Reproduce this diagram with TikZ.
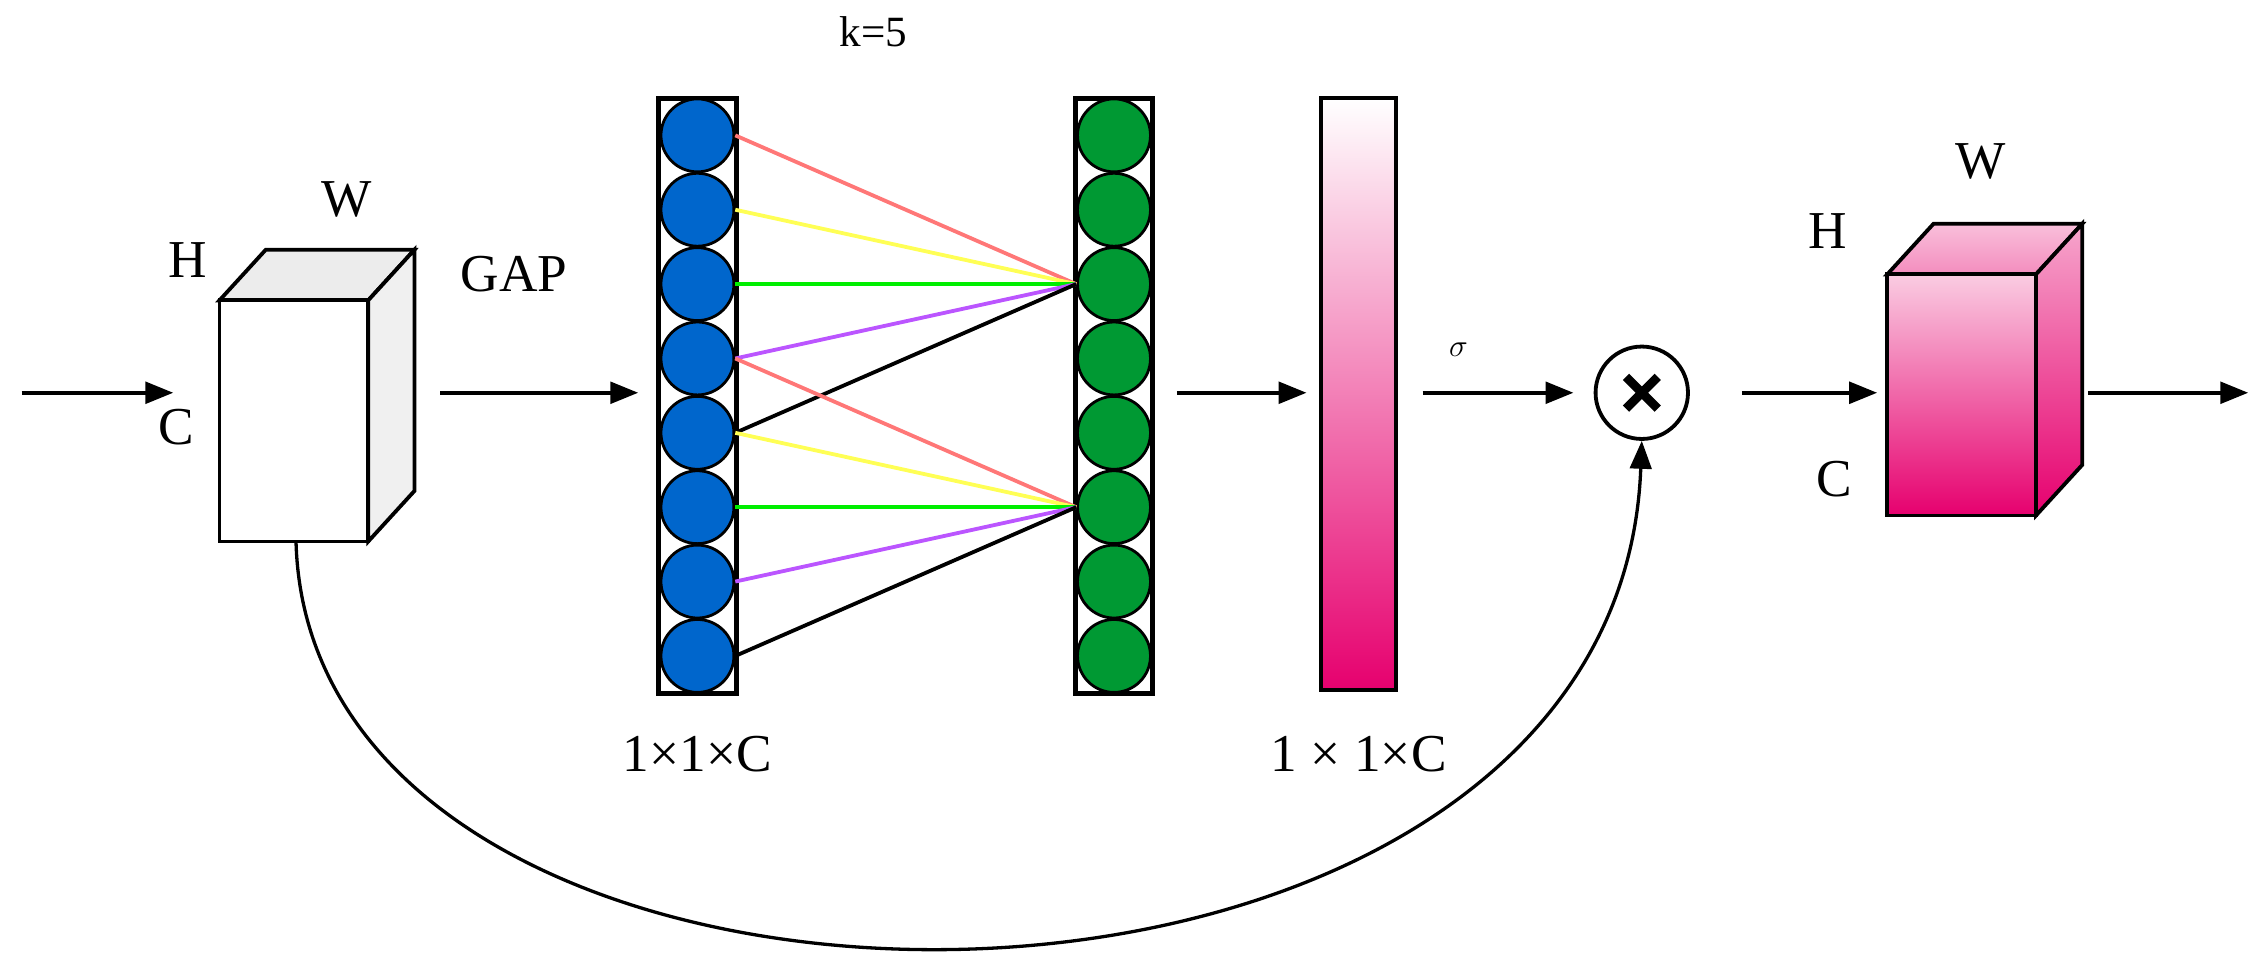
\documentclass[tikz,border=0pt]{standalone}
\usepackage{fontspec}
\setmainfont{Liberation Serif}
\usetikzlibrary{arrows.meta,calc}
\definecolor{cblue}{HTML}{0066CC}
\definecolor{cgreen}{HTML}{009933}
\definecolor{cpink}{HTML}{E6006E}
\definecolor{lred}{HTML}{FF7777}
\definecolor{lyellow}{HTML}{FFFF55}
\definecolor{lgreen}{HTML}{00EE00}
\definecolor{lpurple}{HTML}{BB55FF}
\begin{document}
\begin{tikzpicture}[x=0.04cm,y=-0.04cm,
  arr/.style={line width=3pt,-{Triangle[length=22pt,width=17pt]}},
  lbl/.style={font=\fontsize{42}{46}\selectfont,inner sep=0pt},
  conn/.style={line width=3pt},
  edge/.style={line width=3pt,draw=black}]
\useasboundingbox (0,0) rectangle (1570,672);
% input arrow
\coordinate (in) at (15,272);
\coordinate (c1l) at (152,272);
\draw[arr] (in) -- ($(c1l)+(-32,0)$);
% white cube
\draw[edge,fill=gray!15] (152,208) -- (184,173) -- (287,173) -- (255,208) -- cycle;
\draw[edge,fill=gray!12] (255,208) -- (287,173) -- (287,340) -- (255,375) -- cycle;
\draw[edge,fill=white] (152,208) rectangle (255,375);
\coordinate (c1b) at (205,375);
\node[lbl] at (130,180) {H};
\node[lbl] at (240,138) {W};
\node[lbl] at (122,296) {C};
% GAP arrow
\coordinate (g1) at (305,272);
\coordinate (g2) at (442,272);
\draw[arr] (g1) -- (g2);
\node[lbl] at (356,190) {GAP};
% blue column
\draw[line width=4pt,fill=white] (456,68) rectangle (510,480);
\foreach \i in {0,...,7}{
  \node[circle,draw=black,line width=2.2pt,fill=cblue,minimum size=50.5*0.04cm,inner sep=0pt]
    (b\i) at (483,{93.75+51.5*\i}) {};
}
% green column
\draw[line width=4pt,fill=white] (745,68) rectangle (798,480);
\foreach \i in {0,...,7}{
  \node[circle,draw=black,line width=2.2pt,fill=cgreen,minimum size=50.5*0.04cm,inner sep=0pt]
    (g\i) at (771.5,{93.75+51.5*\i}) {};
}
% connections
\foreach \s/\c in {0/lred,1/lyellow,2/lgreen,3/lpurple,4/black}{
  \draw[conn,draw=\c] (b\s.east) -- (g2.west);
}
\foreach \s/\c in {3/lred,4/lyellow,5/lgreen,6/lpurple,7/black}{
  \draw[conn,draw=\c] (b\s.east) -- (g5.west);
}
\node[lbl,font=\fontsize{34}{38}\selectfont] at (605,22) {k=5};
% pink bar
\shade[top color=white,bottom color=cpink] (915,68) rectangle (967,478);
\draw[line width=3pt] (915,68) rectangle (967,478);
\node[inner sep=0pt,minimum width=52*0.04cm,minimum height=410*0.04cm] (bar) at (941,273) {};
\coordinate (gr) at (815,272);
\draw[arr] (gr) -- ($(bar.west)+(-10,-1)$);
% sigma + mult
\node[circle,draw,line width=3pt,minimum size=64*0.04cm,inner sep=0pt] (mul) at (1137,272) {};
\draw[line width=7pt] ($(mul)+(-11,-11)$) -- ($(mul)+(11,11)$);
\draw[line width=7pt] ($(mul)+(-11,11)$) -- ($(mul)+(11,-11)$);
\draw[arr] ($(bar.east)+(18,-1)$) -- ($(mul.west)+(-14,0)$);
\node[lbl] at (1010,242) {$\sigma$};
% pink cube
\shade[top color=cpink!25,bottom color=cpink!45] (1307,190) -- (1339,155) -- (1442,155) -- (1410,190) -- cycle;
\draw[edge] (1307,190) -- (1339,155) -- (1442,155) -- (1410,190) -- cycle;
\shade[top color=cpink!35,bottom color=cpink] (1410,190) -- (1442,155) -- (1442,322) -- (1410,357) -- cycle;
\draw[edge] (1410,190) -- (1442,155) -- (1442,322) -- (1410,357) -- cycle;
\shade[top color=cpink!20,bottom color=cpink] (1307,190) rectangle (1410,357);
\draw[edge] (1307,190) rectangle (1410,357);
\coordinate (c2l) at (1300,272);
\draw[arr] ($(mul.east)+(36,0)$) -- (c2l);
\node[lbl] at (1266,160) {H};
\node[lbl] at (1372,112) {W};
\node[lbl] at (1270,332) {C};
\coordinate (out) at (1557,272);
\draw[arr] (1446,272) -- (out);
% dims
\node[lbl] at (483,522) {1×1×C};
\node[lbl] at (941,522) {1 × 1×C};
% skip connection
\draw[arr,line width=2.6pt] (c1b) .. controls (215,760) and (1120,760) .. (mul.south);
\end{tikzpicture}
\end{document}
